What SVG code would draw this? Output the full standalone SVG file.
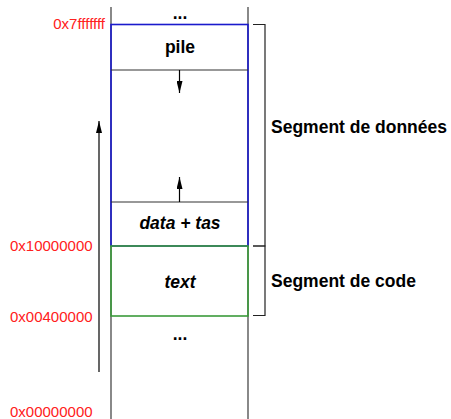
<svg xmlns="http://www.w3.org/2000/svg" width="451" height="419" viewBox="0 0 451 419">
  <style>
    .rail { stroke: #6b6b6b; stroke-width: 1.6; fill: none; }
    .sep { stroke: #333; stroke-width: 1.2; fill: none; }
    .blue { stroke: #1a1acc; stroke-width: 1.6; fill: none; }
    .green { stroke: #3a9a3a; stroke-width: 1.6; fill: none; }
    .bracket { stroke: #222; stroke-width: 1.2; fill: none; }
    .lbl { font-family: "Liberation Sans", Arial, sans-serif; font-weight: bold; font-size: 17.5px; fill: #000; }
    .it { font-style: italic; }
    .addr { font-family: "Liberation Sans", Arial, sans-serif; font-size: 15px; fill: #ff2020; }
    .arr { stroke: #000; stroke-width: 1.2; fill: none; marker-end: url(#head); }
  </style>
  <defs>
    <marker id="head" viewBox="0 0 12 6" refX="12" refY="3" markerWidth="12" markerHeight="6" markerUnits="userSpaceOnUse" orient="auto">
      <path d="M0,0 L12,3 L0,6 z" fill="#000"/>
    </marker>
  </defs>

  <!-- address space rails -->
  <g id="rails">
    <line class="rail" x1="111" y1="7" x2="111" y2="419"/>
    <line class="rail" x1="248" y1="7" x2="248" y2="419"/>
  </g>

  <!-- data segment -->
  <g id="data-segment">
    <rect class="blue" x="111" y="24.5" width="137" height="221.5"/>
  </g>

  <g id="pile">
    <line class="sep" x1="111" y1="70" x2="248" y2="70"/>
    <text class="lbl" x="180" y="53" text-anchor="middle">pile</text>
  </g>

  <g id="data-tas">
    <line class="sep" x1="111" y1="202" x2="248" y2="202"/>
    <text class="lbl it" x="180" y="229" text-anchor="middle">data + tas</text>
  </g>

  <!-- code segment -->
  <g id="text">
    <rect class="green" x="111" y="246" width="137" height="70"/>
    <text class="lbl it" x="180" y="288" text-anchor="middle">text</text>
  </g>

  <g id="ellipsis-top">
    <text class="lbl" x="180" y="19" text-anchor="middle">...</text>
  </g>
  <g id="ellipsis-bottom">
    <text class="lbl" x="180" y="340" text-anchor="middle">...</text>
  </g>

  <!-- addresses -->
  <g id="addresses">
    <text class="addr" x="105" y="29" text-anchor="end">0x7fffffff</text>
    <text class="addr" x="10" y="251">0x10000000</text>
    <text class="addr" x="10" y="322">0x00400000</text>
    <text class="addr" x="10" y="417">0x00000000</text>
  </g>

  <!-- segment brackets -->
  <g id="seg-donnees">
    <path class="bracket" d="M253,24.5 H265 V246 H253"/>
    <text class="lbl" x="271" y="133">Segment de données</text>
  </g>
  <g id="seg-code">
    <path class="bracket" d="M253,246 H265 V315.5 H253"/>
    <text class="lbl" x="271" y="287">Segment de code</text>
  </g>

  <!-- growth arrows -->
  <g id="connectors">
    <line class="arr" x1="179.5" y1="70" x2="179.5" y2="93"/>
    <line class="arr" x1="179.5" y1="202" x2="179.5" y2="177"/>
    <line class="arr" x1="99" y1="372" x2="99" y2="121"/>
  </g>
</svg>
